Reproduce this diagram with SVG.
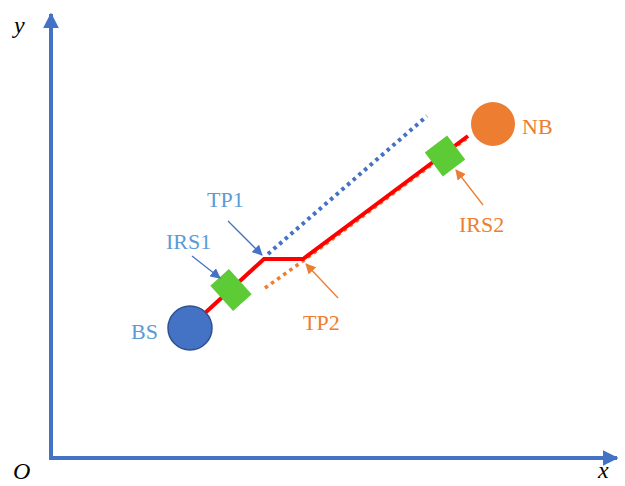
<svg xmlns="http://www.w3.org/2000/svg" width="625" height="486" viewBox="0 0 625 486">
<defs>
<marker id="axArrow" viewBox="0 0 10 10" refX="9" refY="5" markerWidth="4" markerHeight="4" orient="auto" markerUnits="strokeWidth"><path d="M0,0 L10,5 L0,10 z" fill="#4472C4"/></marker>
<marker id="bArrow" viewBox="0 0 10 10" refX="9" refY="5" markerWidth="8" markerHeight="8" orient="auto" markerUnits="strokeWidth"><path d="M0,0 L10,5 L0,10 z" fill="#4472C4"/></marker>
<marker id="oArrow" viewBox="0 0 10 10" refX="9" refY="5" markerWidth="8" markerHeight="8" orient="auto" markerUnits="strokeWidth"><path d="M0,0 L10,5 L0,10 z" fill="#ED7D31"/></marker>
</defs>
<style>
.axis{stroke:#4472C4;stroke-width:4;fill:none}
.ital{font-family:"Liberation Serif",serif;font-style:italic;font-size:24px;fill:#000}
.lblB{font-family:"Liberation Serif",serif;font-size:22px;fill:#5B9BD5}
.lblO{font-family:"Liberation Serif",serif;font-size:22px;fill:#ED7D31}
.ptrB{stroke:#4472C4;stroke-width:1.3;fill:none}
.ptrO{stroke:#ED7D31;stroke-width:1.3;fill:none}
.irs{fill:#5DCB35}
</style>
<g id="axes">
<path class="axis" d="M51,458 L51,14" marker-end="url(#axArrow)"/>
<path class="axis" d="M49,458 L617,458" marker-end="url(#axArrow)"/>
<text class="ital" x="14" y="33">y</text>
<text class="ital" x="13" y="479">O</text>
<text class="ital" x="598" y="478">x</text>
</g>
<g id="connectors">
<path d="M268,254 L427,116" stroke="#4472C4" stroke-width="4" stroke-dasharray="3.5 4" fill="none"/>
<path d="M265,288 L303,261 L466,139" stroke="#ED7D31" stroke-width="3.5" stroke-dasharray="3.5 4" fill="none"/>
<path d="M205,313 L264,259 L303,259 L468,136" stroke="#FF0000" stroke-width="4" fill="none" stroke-linejoin="miter"/>
</g>
<g id="BS">
<circle cx="190" cy="328" r="22" fill="#4472C4" stroke="#2F528F" stroke-width="1.5"/>
<text class="lblB" x="131" y="339">BS</text>
</g>
<g id="NB">
<circle cx="493" cy="124" r="22" fill="#ED7D31"/>
<text class="lblO" x="522" y="134">NB</text>
</g>
<g id="IRS1">
<rect class="irs" x="-12.5" y="-17" width="25" height="34" transform="translate(231,290) rotate(-42)"/>
<text class="lblB" x="166" y="249">IRS1</text>
<path class="ptrB" d="M192,256 L220,278" marker-end="url(#bArrow)"/>
</g>
<g id="IRS2">
<rect class="irs" x="-14" y="-15" width="28" height="30" transform="translate(445,156) rotate(-37)"/>
<text class="lblO" x="459" y="232">IRS2</text>
<path class="ptrO" d="M483,205 L456,170" marker-end="url(#oArrow)"/>
</g>
<g id="TP1">
<text class="lblB" x="207" y="207">TP1</text>
<path class="ptrB" d="M228,221 L262,255" marker-end="url(#bArrow)"/>
</g>
<g id="TP2">
<text class="lblO" x="303" y="330">TP2</text>
<path class="ptrO" d="M338,298 L306,264" marker-end="url(#oArrow)"/>
</g>
</svg>
